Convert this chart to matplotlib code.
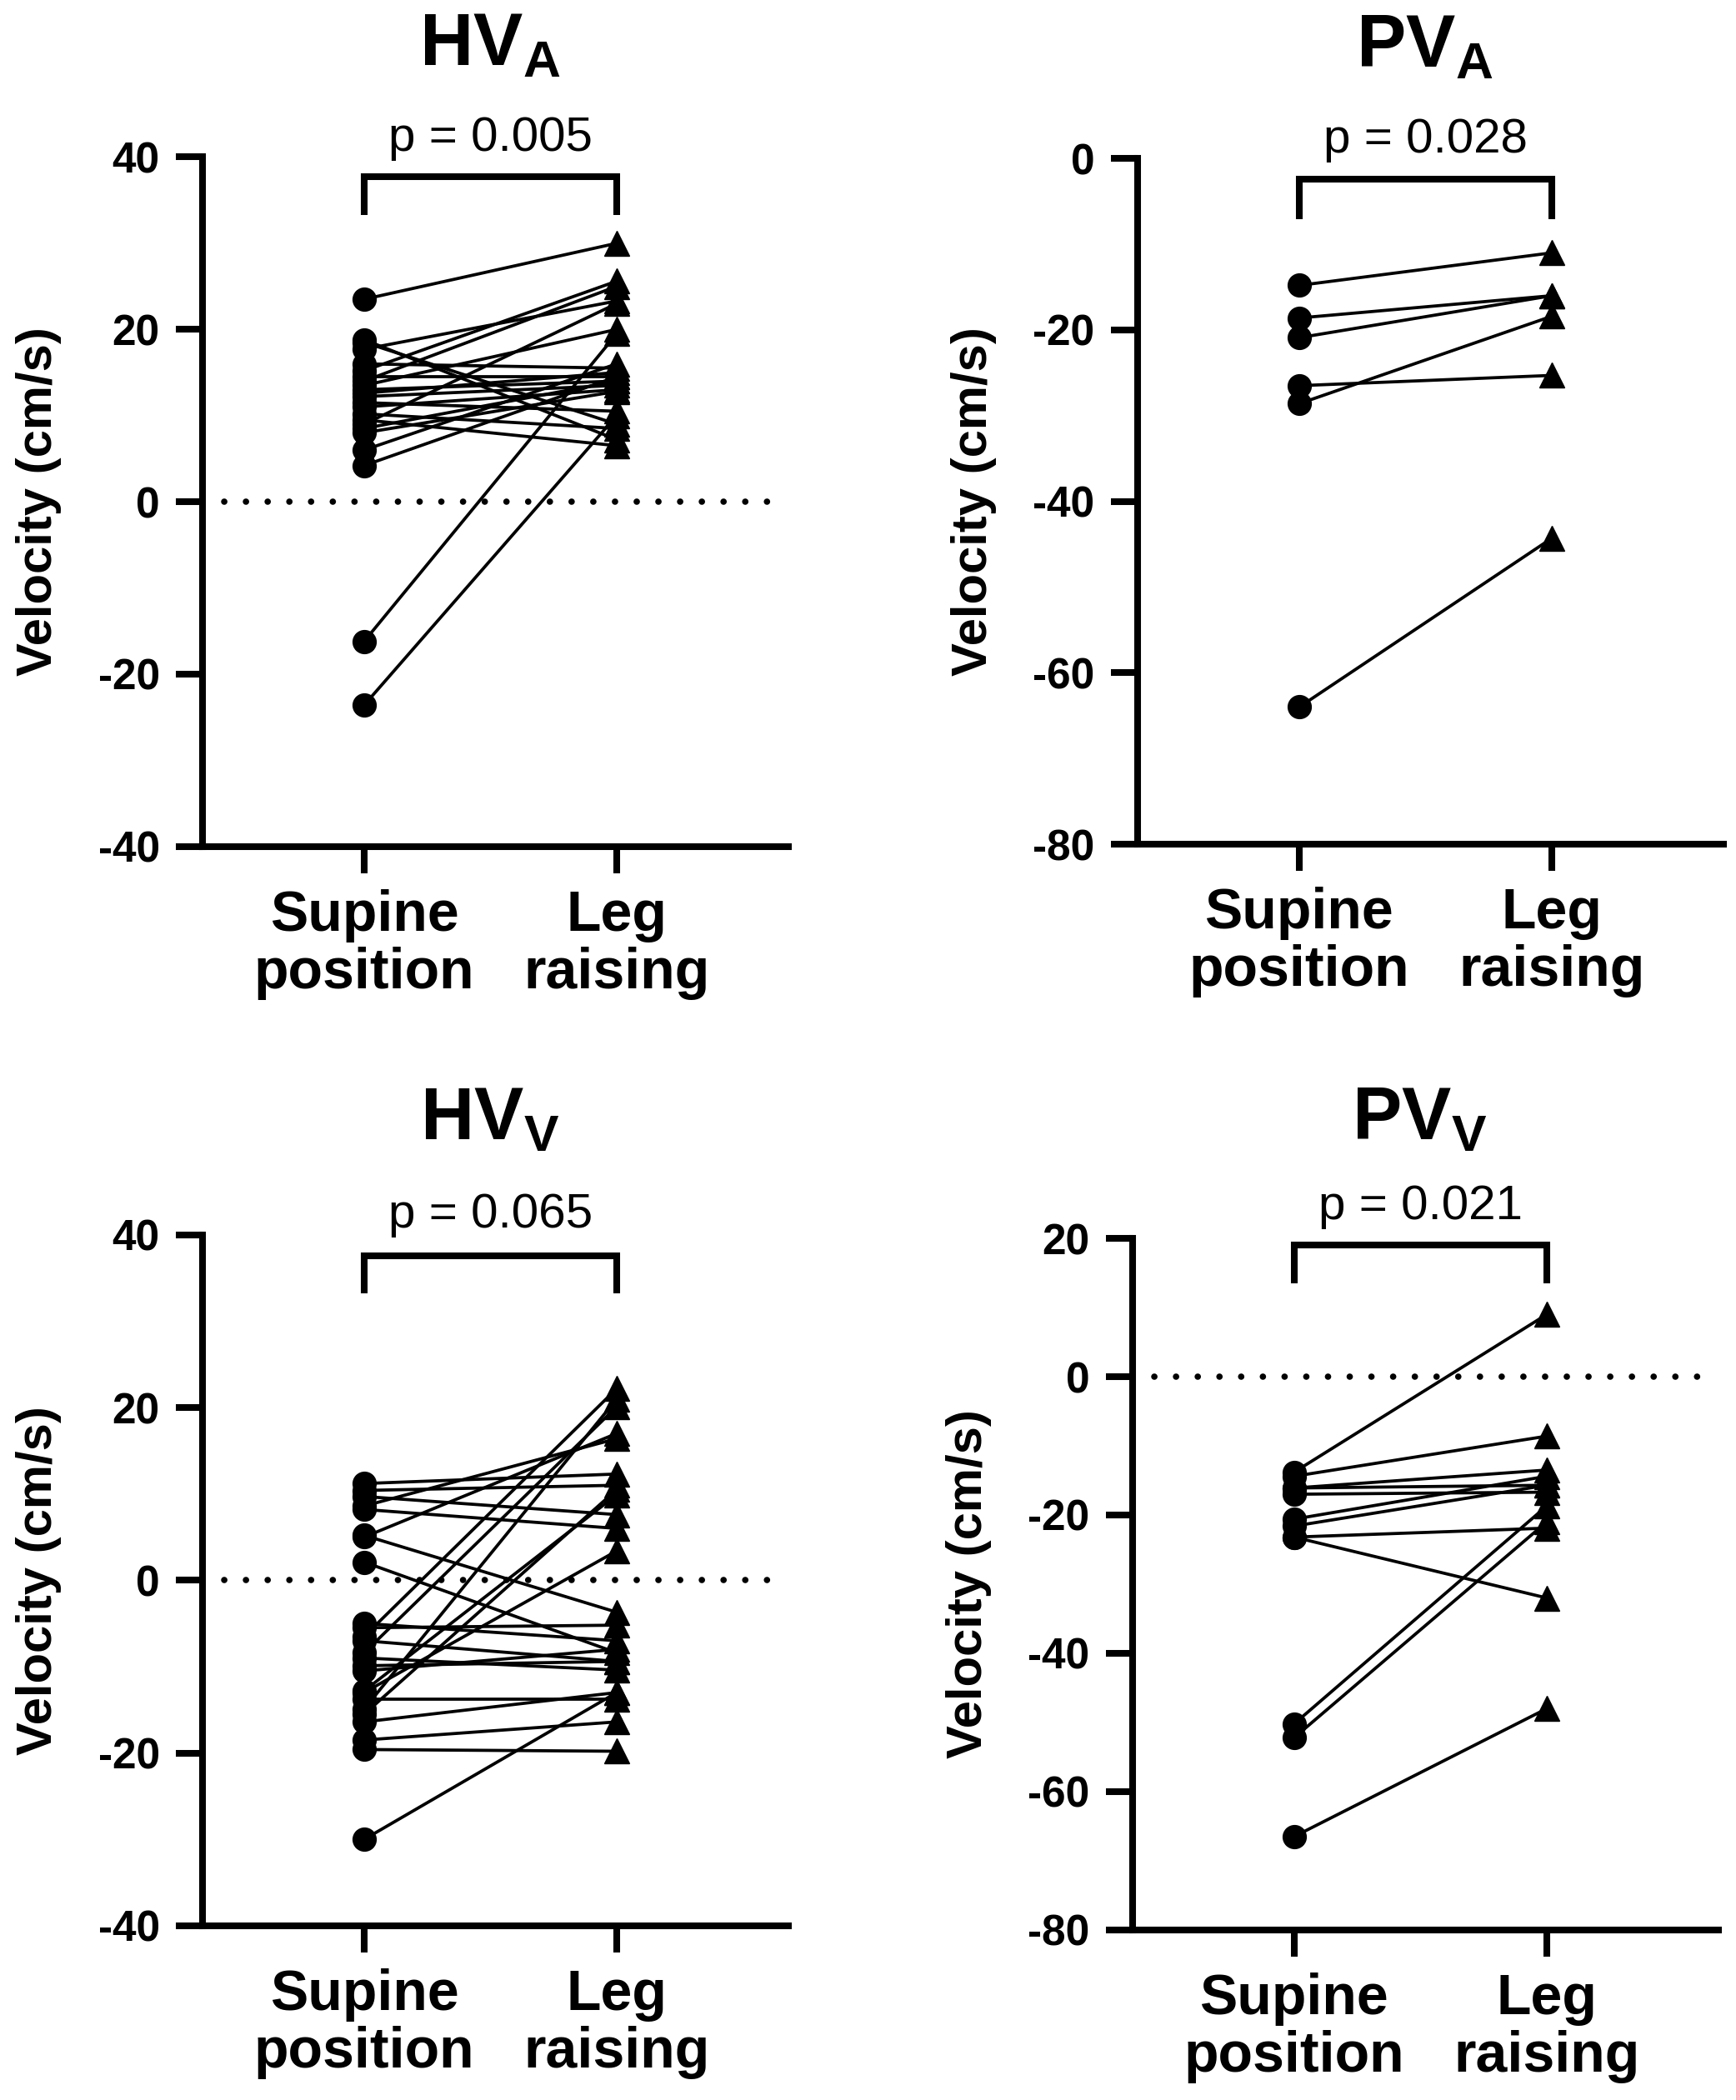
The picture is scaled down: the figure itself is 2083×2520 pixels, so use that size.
import matplotlib
matplotlib.use("Agg")
import matplotlib.pyplot as plt
from matplotlib import rcParams

rcParams['font.family'] = ['Liberation Sans', 'DejaVu Sans']
rcParams['mathtext.fontset'] = 'custom'
rcParams['mathtext.bf'] = 'Liberation Sans:bold'
rcParams['mathtext.rm'] = 'Liberation Sans'

# 数据：每个受试者 仰卧位 -> 抬腿 的速度 (cm/s)
hva_supine = [23.5, 18.8, 18.5, 17.7, 16.0, 15.2, 14.5, 14.0, 13.5, 13.0, 12.6, 12.2,
              11.5, 11.0, 10.2, 9.5, 9.0, 8.5, 8.0, 6.0, 4.2, -16.2, -23.6]
hva_leg = [30.0, 7.2, 9.0, 23.3, 15.5, 25.6, 14.5, 25.0, 20.0, 14.0, 15.0, 13.5,
           10.5, 13.0, 8.5, 6.5, 23.0, 14.0, 12.8, 16.0, 14.5, 19.5, 10.0]

pva_supine = [-14.8, -18.6, -20.9, -26.5, -28.6, -64.0]
pva_leg = [-11.0, -16.0, -16.0, -25.3, -18.4, -44.3]

hvv_supine = [11.2, 10.4, 9.7, 8.6, 8.2, 5.2, 5.0, 2.1, -5.0, -5.5, -6.5, -7.0, -8.4,
              -9.0, -9.9, -10.5, -12.8, -13.0, -13.8, -14.9, -15.5, -16.4, -18.5, -19.6, -30.0]
hvv_leg = [12.3, 11.0, 7.6, 16.4, 6.0, -3.7, 17.0, -8.4, -7.0, -5.2, 22.2, -9.4, 20.1,
           -10.4, -9.4, -8.0, 9.9, 3.4, -13.8, 21.0, 10.5, -13.0, -16.4, -19.8, -13.0]

pvv_supine = [-13.8, -14.4, -16.1, -16.1, -17.0, -20.6, -21.6, -23.2, -23.2, -50.2, -52.2, -66.5]
pvv_leg = [9.0, -8.6, -13.5, -15.7, -16.7, -14.4, -15.7, -21.9, -32.0, -18.7, -21.0, -48.0]

groups = ["Supine\nposition", "Leg\nraising"]
titles = [r"$\mathbf{HV}_\mathbf{A}$", r"$\mathbf{PV}_\mathbf{A}$",
          r"$\mathbf{HV}_\mathbf{V}$", r"$\mathbf{PV}_\mathbf{V}$"]
p_values = ["p = 0.005", "p = 0.028", "p = 0.065", "p = 0.021"]
y_ticks = [[-40, -20, 0, 20, 40], [-80, -60, -40, -20, 0],
           [-40, -20, 0, 20, 40], [-80, -60, -40, -20, 0, 20]]


def draw_panel(ax, supine, leg, title, p_text, ticks, zero_line, title_y, p_y, br_top, br_leg):
    lw_axis = 5.8
    ax.set_xlim(-0.64, 1.68)
    ax.set_ylim(ticks[0], ticks[-1])
    if zero_line:
        ax.plot([-0.64, 1.68], [0, 0], color="black", lw=5.5,
                linestyle=(0, (0.01, 3.4)), dash_capstyle="round", zorder=1)
    for s, l in zip(supine, leg):
        ax.plot([0, 1], [s, l], color="black", lw=2.7, zorder=2)
    ax.plot([0] * len(supine), supine, "o", color="black", ms=20, zorder=3, clip_on=False)
    ax.plot([1] * len(leg), leg, "^", color="black", ms=21, zorder=3, clip_on=False)

    # 显著性括号
    tr = ax.get_xaxis_transform()
    ax.plot([0, 0, 1, 1], [br_leg, br_top, br_top, br_leg], color="black", lw=lw_axis,
            transform=tr, clip_on=False, solid_joinstyle="miter", solid_capstyle="butt")
    ax.text(0.5, p_y, p_text, transform=tr, ha="center", va="baseline", fontsize=42)
    ax.text(0.49, title_y, title, transform=ax.transAxes, ha="center", va="bottom", fontsize=64)

    for side in ["top", "right"]:
        ax.spines[side].set_visible(False)
    for side in ["left", "bottom"]:
        ax.spines[side].set_linewidth(lw_axis)
        ax.spines[side].set_zorder(4)
    ax.set_yticks(ticks)
    ax.set_yticklabels([str(t) for t in ticks], fontsize=37, fontweight="bold")
    ax.set_xticks([0, 1])
    ax.set_xticklabels(groups, fontsize=49, fontweight="bold", linespacing=1.1)
    ax.tick_params(axis="both", direction="out", length=23, width=lw_axis)
    ax.tick_params(axis="y", pad=14)
    ax.tick_params(axis="x", pad=14)
    ax.set_ylabel("Velocity (cm/s)", fontsize=43, fontweight="bold")
    ax.yaxis.set_label_coords(-0.24, 0.5)


fig = plt.figure(figsize=(20.83, 25.2), dpi=100)
ax1 = fig.add_axes([0.1167, 0.597, 0.3375, 0.3282])
ax2 = fig.add_axes([0.6553, 0.598, 0.3375, 0.3265])
ax3 = fig.add_axes([0.1167, 0.083, 0.3375, 0.329])
ax4 = fig.add_axes([0.6524, 0.081, 0.3375, 0.3293])

draw_panel(ax1, hva_supine, hva_leg, titles[0], p_values[0], y_ticks[0], True, 1.11, 1.009, 0.972, 0.916)
draw_panel(ax2, pva_supine, pva_leg, titles[1], p_values[1], y_ticks[1], False, 1.11, 1.009, 0.970, 0.912)
draw_panel(ax3, hvv_supine, hvv_leg, titles[2], p_values[2], y_ticks[2], True, 1.115, 1.01, 0.970, 0.915)
draw_panel(ax4, pvv_supine, pvv_leg, titles[3], p_values[3], y_ticks[3], True, 1.12, 1.028, 0.990, 0.935)

fig.savefig("out.png", dpi=100)
